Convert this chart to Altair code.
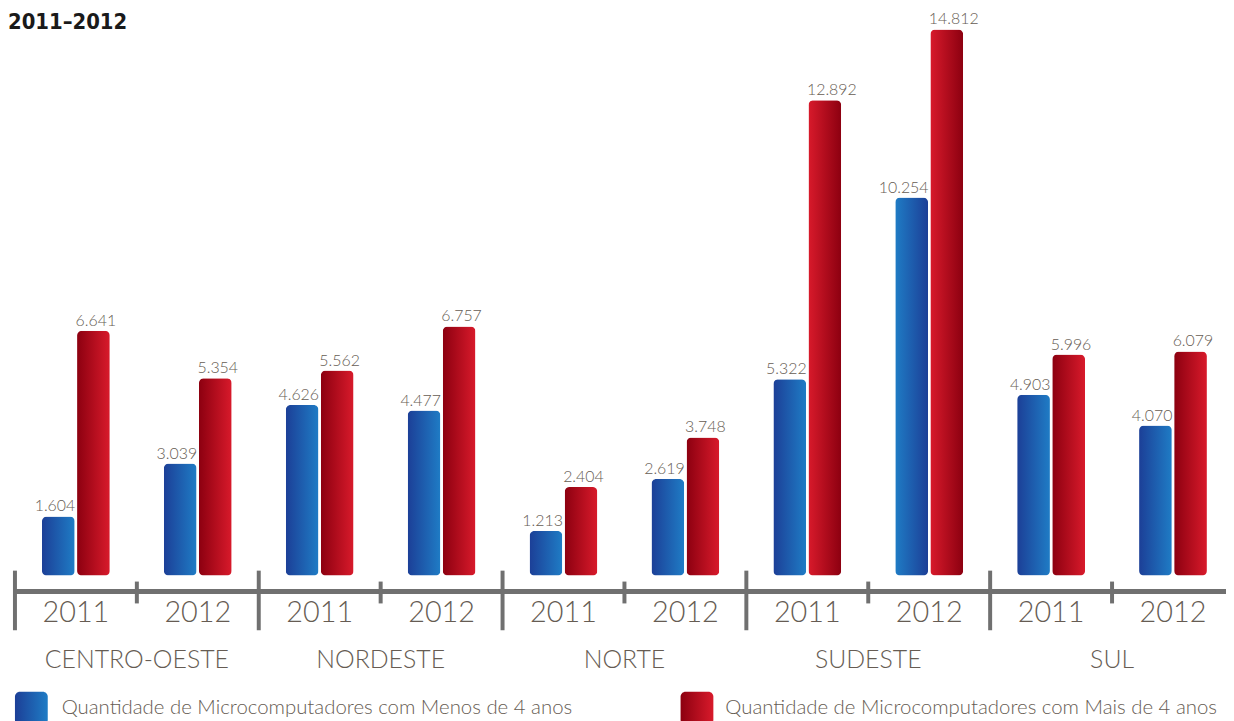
import altair as alt
import pandas as pd

# ---- data ----
regions = ["CENTRO-OESTE", "NORDESTE", "NORTE", "SUDESTE", "SUL"]
years = ["2011", "2012"]
series = ["Quantidade de Microcomputadores com Menos de 4 anos",
          "Quantidade de Microcomputadores com Mais de 4 anos"]
menos = [1604, 3039, 4626, 4477, 1213, 2619, 5322, 10254, 4903, 4070]
mais = [6641, 5354, 5562, 6757, 2404, 3748, 12892, 14812, 5996, 6079]
title_text = "2011–2012"

slots = [f"{r} {y}" for r in regions for y in years]
rows = []
for i, s in enumerate(slots):
    r, y = s.rsplit(" ", 1)
    for ser, vals in ((series[0], menos), (series[1], mais)):
        v = vals[i]
        rows.append({"region": r, "year": y, "slot": s, "series": ser,
                     "value": v, "label": f"{v:,}".replace(",", ".")})
df = pd.DataFrame(rows)
slot_df = pd.DataFrame({"slot": slots, "year": [s.rsplit(" ", 1)[1] for s in slots]})
reg_df = pd.DataFrame({"region": regions, "slot": [f"{r} 2011" for r in regions]})
leg_df = pd.DataFrame({"series": series})

TEXT = "#665c53"
FONT = "Lato"

xscale = alt.Scale(domain=slots, range=[7, 1234], paddingInner=0, paddingOuter=0)
yscale = alt.Scale(domain=[0, 15330], range=[569, 0])
xoff = alt.XOffset("series:N", scale=alt.Scale(domain=series, paddingInner=0.0857, paddingOuter=0.78))


def grad(c_left, c_right):
    return alt.Gradient(gradient="linear", x1=0, x2=1, y1=0, y2=0,
                        stops=[alt.GradientStop(color=c_left, offset=0),
                               alt.GradientStop(color=c_right, offset=1)])


BLUE = grad("#1c3f97", "#1f7cc5")
BLUE_R = grad("#1f7cc5", "#1c3f97")
RED = grad("#8c0010", "#d81a2b")
RED_R = grad("#d81a2b", "#8c0010")

base = alt.Chart(df)
enc = dict(x=alt.X("slot:N", scale=xscale, axis=None),
           xOffset=xoff,
           y=alt.Y("value:Q", scale=yscale, axis=None))


def bars(color, cond):
    return base.transform_filter(cond).mark_bar(
        color=color, width=33, cornerRadius=5).encode(**enc)


b1 = bars(BLUE, f"datum.series == '{series[0]}' && datum.slot != 'SUDESTE 2012'")
b2 = bars(BLUE_R, f"datum.series == '{series[0]}' && datum.slot == 'SUDESTE 2012'")
b3 = bars(RED, f"datum.series == '{series[1]}' && datum.region != 'SUDESTE'")
b4 = bars(RED_R, f"datum.series == '{series[1]}' && datum.region == 'SUDESTE'")

lab1 = base.transform_filter(f"datum.series == '{series[0]}'").mark_text(
    align="right", baseline="alphabetic", dx=17, dy=-5, fontSize=16, font=FONT,
    fontWeight=300, color=TEXT
).encode(**enc, text="label:N")
lab2 = base.transform_filter(f"datum.series == '{series[1]}'").mark_text(
    align="left", baseline="alphabetic", dx=-18, dy=-5, fontSize=16, font=FONT,
    fontWeight=300, color=TEXT
).encode(**enc, text="label:N")

# axis line and ticks
axis_line = alt.Chart(slot_df).mark_rule(color="#707070", strokeWidth=4).encode(
    x=alt.value(7), x2=alt.value(1226), y=alt.value(585))
tall = alt.Chart(slot_df).transform_filter("datum.year == '2011'").mark_rule(
    color="#707070", strokeWidth=4).encode(
    x=alt.X("slot:N", scale=xscale, axis=None, bandPosition=0),
    y=alt.value(564), y2=alt.value(624))
short = alt.Chart(slot_df).transform_filter("datum.year == '2012'").mark_rule(
    color="#707070", strokeWidth=4).encode(
    x=alt.X("slot:N", scale=xscale, axis=None, bandPosition=0),
    y=alt.value(575), y2=alt.value(597))
year_lab = alt.Chart(slot_df).mark_text(
    fontSize=29, font=FONT, fontWeight=300, color=TEXT, baseline="middle").encode(
    x=alt.X("slot:N", scale=xscale, axis=None, bandPosition=0.5),
    y=alt.value(607), text="year:N")
reg_lab = alt.Chart(reg_df).mark_text(
    fontSize=25, font=FONT, fontWeight=300, color=TEXT, baseline="middle").encode(
    x=alt.X("slot:N", scale=xscale, axis=None, bandPosition=1),
    y=alt.value(654), text="region:N")

# legend
leg_sq1 = alt.Chart(leg_df).transform_filter(f"datum.series == '{series[0]}'").mark_rect(
    color=BLUE, cornerRadius=5).encode(
    x=alt.value(7), x2=alt.value(40), y=alt.value(686), y2=alt.value(719))
leg_sq2 = alt.Chart(leg_df).transform_filter(f"datum.series == '{series[1]}'").mark_rect(
    color=RED, cornerRadius=5).encode(
    x=alt.value(677), x2=alt.value(710), y=alt.value(686), y2=alt.value(719))
leg_t1 = alt.Chart(leg_df).transform_filter(f"datum.series == '{series[0]}'").mark_text(
    align="left", baseline="middle", fontSize=20.5, font=FONT, fontWeight=300, color=TEXT).encode(
    x=alt.value(54), y=alt.value(702), text="series:N")
leg_t2 = alt.Chart(leg_df).transform_filter(f"datum.series == '{series[1]}'").mark_text(
    align="left", baseline="middle", fontSize=20.5, font=FONT, fontWeight=300, color=TEXT).encode(
    x=alt.value(722), y=alt.value(702), text="series:N")

title = alt.Chart(leg_df).transform_filter(f"datum.series == '{series[0]}'").mark_text(
    align="left", baseline="alphabetic", fontSize=22, fontWeight="bold",
    font="DejaVu Sans Condensed", color="#1a1a1a", text=title_text).encode(
    x=alt.value(0), y=alt.value(19))

chart = alt.layer(
    axis_line, tall, short, b1, b2, b3, b4, lab1, lab2, year_lab, reg_lab,
    leg_sq1, leg_sq2, leg_t1, leg_t2, title
).properties(
    width=1226, height=713, padding=0,
    autosize=alt.AutoSizeParams(type="none")
).configure_view(stroke=None).resolve_scale(x="shared")

chart.save("out.html", embed_options={"renderer": "svg", "actions": False})
